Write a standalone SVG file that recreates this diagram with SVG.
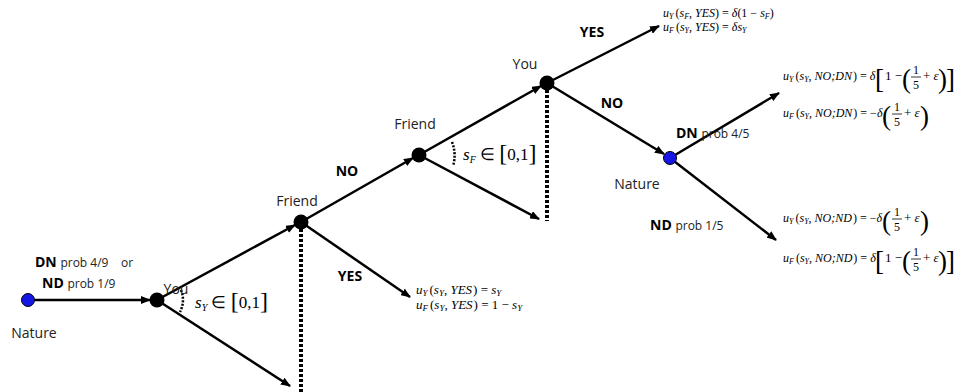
<svg xmlns="http://www.w3.org/2000/svg" width="957" height="392" viewBox="0 0 957 392">
<defs>
<marker id="ah" markerWidth="10" markerHeight="8" refX="9" refY="4" orient="auto" markerUnits="userSpaceOnUse"><path d="M0,0 L10,4 L0,8 z" fill="#000"/></marker>
<style>
.e{stroke:#000;stroke-width:2.5;fill:none;marker-end:url(#ah)}
.d{stroke:#000;stroke-width:4;stroke-dasharray:3 2;fill:none}
.arc{stroke:#000;stroke-width:2.5;stroke-dasharray:2 1.5;fill:none}
.dec{fill:#000}
.nat{fill:#1515e6;stroke:#000;stroke-width:1}
.lb{font-family:"Open Sans","Liberation Sans",sans-serif;font-size:14px;fill:#222}
.bd{font-family:"Open Sans","Liberation Sans",sans-serif;font-size:14px;font-weight:bold;fill:#000}
.sm{font-family:"Open Sans","Liberation Sans",sans-serif;font-size:12px;font-weight:normal;fill:#222}
.m{font-family:"Liberation Serif","Times New Roman",serif;font-size:12px;font-style:italic;fill:#000}
.m13{font-size:13px}
.r{font-style:normal}
.sb{font-size:8px}
.sb9{font-size:9px}
.bg{font-family:"Liberation Serif","Times New Roman",serif;font-size:27px;font-style:normal;fill:#000}
.fr{font-family:"Liberation Serif","Times New Roman",serif;font-size:12px;fill:#000;text-anchor:middle}
.L{font-family:"Liberation Serif","Times New Roman",serif;font-size:17px;font-style:italic;fill:#000}
.fb{stroke:#000;stroke-width:0.8}
</style>
</defs>
<g id="connectors">
<line class="e" x1="35" y1="300" x2="150" y2="300"/>
<line class="e" x1="157" y1="300" x2="295" y2="225"/>
<line class="e" x1="157" y1="300" x2="290" y2="386"/>
<line class="e" x1="301" y1="222" x2="413" y2="158"/>
<line class="e" x1="301" y1="222" x2="410" y2="297"/>
<line class="e" x1="419" y1="155" x2="541" y2="86"/>
<line class="e" x1="419" y1="155" x2="539" y2="219"/>
<line class="e" x1="547" y1="83" x2="659" y2="26"/>
<line class="e" x1="547" y1="83" x2="664" y2="154"/>
<line class="e" x1="670" y1="158" x2="779" y2="93"/>
<line class="e" x1="670" y1="158" x2="776" y2="240"/>
<line class="d" x1="301" y1="229" x2="301" y2="392"/>
<line class="d" x1="547" y1="90" x2="547" y2="221"/>
<path class="arc" d="M181,290 A26,26 0 0 1 180,312"/>
<path class="arc" d="M452,142 A36,36 0 0 1 453,166"/>
</g>
<g id="nature1"><circle class="nat" cx="28" cy="300" r="6.5"/><text class="lb" x="34" y="338" text-anchor="middle">Nature</text></g>
<g id="you1"><circle class="dec" cx="157" cy="300" r="7.5"/><text class="lb" x="176" y="294" text-anchor="middle">You</text></g>
<g id="friend1"><circle class="dec" cx="301" cy="222" r="7.5"/><text class="lb" x="297" y="206" text-anchor="middle">Friend</text></g>
<g id="friend2"><circle class="dec" cx="419" cy="155" r="7.5"/><text class="lb" x="415" y="129" text-anchor="middle">Friend</text></g>
<g id="you2"><circle class="dec" cx="547" cy="83" r="7.5"/><text class="lb" x="525" y="69" text-anchor="middle">You</text></g>
<g id="nature2"><circle class="nat" cx="670" cy="158" r="6.5"/><text class="lb" x="637" y="189" text-anchor="middle">Nature</text></g>
<g id="labels">
<text class="bd" x="35" y="267">DN <tspan class="sm">prob 4/9</tspan><tspan class="sm" x="121">or</tspan></text>
<text class="bd" x="42" y="288">ND <tspan class="sm">prob 1/9</tspan></text>
<text class="bd" x="347" y="176" text-anchor="middle">NO</text>
<text class="bd" x="350" y="281" text-anchor="middle">YES</text>
<text class="bd" x="592" y="37" text-anchor="middle">YES</text>
<text class="bd" x="612" y="108" text-anchor="middle">NO</text>
<text class="bd" x="676" y="138">DN <tspan class="sm">prob 4/5</tspan></text>
<text class="bd" x="650" y="230">ND <tspan class="sm">prob 1/5</tspan></text>
<text class="L" x="195" y="308">s<tspan font-size="10" dy="3">Y</tspan><tspan class="r" dy="-3"> ∈ </tspan><tspan class="r" font-size="24" dy="1">[</tspan><tspan class="r" dy="-1">0,1</tspan><tspan class="r" font-size="24" dy="1">]</tspan></text>
<text class="L" x="463" y="160">s<tspan font-size="10" dy="3">F</tspan><tspan class="r" dy="-3"> ∈ </tspan><tspan class="r" font-size="24" dy="1">[</tspan><tspan class="r" dy="-1">0,1</tspan><tspan class="r" font-size="24" dy="1">]</tspan></text>
</g>
<g id="payoffs">
<text class="m" x="663" y="17">u<tspan class="sb" dy="2">Y</tspan><tspan class="r" dy="-2" dx="2">(</tspan>s<tspan class="sb" dy="2">F</tspan><tspan class="r" dy="-2">, </tspan>YES<tspan class="r">) = </tspan>δ<tspan class="r">(1 − </tspan>s<tspan class="sb" dy="2">F</tspan><tspan class="r" dy="-2">)</tspan></text>
<text class="m" x="663" y="31">u<tspan class="sb" dy="2">F</tspan><tspan class="r" dy="-2" dx="2">(</tspan>s<tspan class="sb" dy="2">Y</tspan><tspan class="r" dy="-2">, </tspan>YES<tspan class="r">) = </tspan>δs<tspan class="sb" dy="2">Y</tspan></text>

<text class="m m13" x="416" y="294">u<tspan class="sb9" dy="2">Y</tspan><tspan class="r" dy="-2" dx="2">(</tspan>s<tspan class="sb9" dy="2">Y</tspan><tspan class="r" dy="-2">, </tspan>YES<tspan class="r" dx="1">) = </tspan>s<tspan class="sb9" dy="2">Y</tspan></text>
<text class="m m13" x="416" y="309">u<tspan class="sb9" dy="2">F</tspan><tspan class="r" dy="-2" dx="2">(</tspan>s<tspan class="sb9" dy="2">Y</tspan><tspan class="r" dy="-2">, </tspan>YES<tspan class="r" dx="1">) = 1 − </tspan>s<tspan class="sb9" dy="2">Y</tspan></text>

<text class="m" x="783" y="80">u<tspan class="sb" dy="2">Y</tspan><tspan class="r" dy="-2" dx="2">(</tspan>s<tspan class="sb" dy="2">Y</tspan><tspan class="r" dy="-2">, </tspan>NO;DN<tspan class="r" dx="1">) = </tspan>δ</text>
<text class="bg" x="875" y="88">[</text><text class="m m13 r" x="885" y="80">1 −</text><text class="bg" x="902" y="88">(</text>
<text class="fr" x="916" y="74">1</text><line class="fb" x1="911" y1="77" x2="921" y2="77"/><text class="fr" x="916" y="89">5</text>
<text class="m m13" x="923" y="80"><tspan class="r">+ </tspan>ε</text><text class="bg" x="938" y="88">)</text><text class="bg" x="946" y="88">]</text>

<text class="m" x="783" y="117">u<tspan class="sb" dy="2">F</tspan><tspan class="r" dy="-2" dx="2">(</tspan>s<tspan class="sb" dy="2">Y</tspan><tspan class="r" dy="-2">, </tspan>NO;DN<tspan class="r" dx="1">) = −</tspan>δ</text>
<text class="bg" x="882" y="125">(</text>
<text class="fr" x="897" y="111">1</text><line class="fb" x1="892" y1="114" x2="902" y2="114"/><text class="fr" x="897" y="126">5</text>
<text class="m m13" x="904" y="117"><tspan class="r">+ </tspan>ε</text><text class="bg" x="920" y="125">)</text>

<text class="m" x="783" y="222">u<tspan class="sb" dy="2">Y</tspan><tspan class="r" dy="-2" dx="2">(</tspan>s<tspan class="sb" dy="2">Y</tspan><tspan class="r" dy="-2">, </tspan>NO;ND<tspan class="r" dx="1">) = −</tspan>δ</text>
<text class="bg" x="882" y="230">(</text>
<text class="fr" x="897" y="216">1</text><line class="fb" x1="892" y1="219" x2="902" y2="219"/><text class="fr" x="897" y="231">5</text>
<text class="m m13" x="904" y="222"><tspan class="r">+ </tspan>ε</text><text class="bg" x="920" y="230">)</text>

<text class="m" x="783" y="262">u<tspan class="sb" dy="2">F</tspan><tspan class="r" dy="-2" dx="2">(</tspan>s<tspan class="sb" dy="2">Y</tspan><tspan class="r" dy="-2">, </tspan>NO;ND<tspan class="r" dx="1">) = </tspan>δ</text>
<text class="bg" x="875" y="270">[</text><text class="m m13 r" x="885" y="262">1 −</text><text class="bg" x="902" y="270">(</text>
<text class="fr" x="916" y="256">1</text><line class="fb" x1="911" y1="259" x2="921" y2="259"/><text class="fr" x="916" y="271">5</text>
<text class="m m13" x="923" y="262"><tspan class="r">+ </tspan>ε</text><text class="bg" x="938" y="270">)</text><text class="bg" x="946" y="270">]</text>
</g>
</svg>
